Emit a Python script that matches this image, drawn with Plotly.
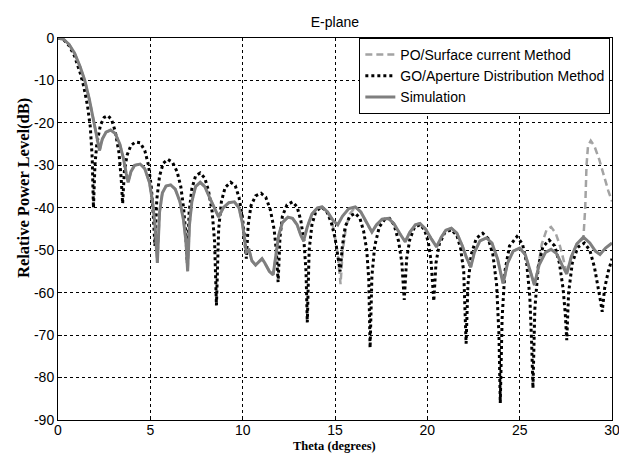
import plotly.graph_objects as go

# ---------------- data ----------------
go_theta = [0, 0.3, 0.6, 0.9, 1.2, 1.4, 1.6, 1.75, 1.85, 1.92,
            2.0, 2.1, 2.3, 2.5, 2.7, 2.9, 3.1, 3.3, 3.42, 3.5,
            3.6, 3.75, 3.95, 4.2, 4.45, 4.7, 4.9, 5.05, 5.15, 5.25,
            5.35, 5.5, 5.7, 5.95, 6.2, 6.45, 6.65, 6.8, 6.92, 7.0,
            7.1, 7.25, 7.45, 7.7, 7.95, 8.15, 8.35, 8.48, 8.58,
            8.7, 8.85, 9.05, 9.35, 9.6, 9.8, 9.98, 10.1, 10.2,
            10.3, 10.45, 10.7, 11.0, 11.25, 11.5, 11.7, 11.82, 11.92,
            12.02, 12.15, 12.4, 12.7, 12.95, 13.15, 13.32, 13.43, 13.5,
            13.6, 13.75, 13.95, 14.25, 14.55, 14.8, 15.0, 15.15, 15.28,
            15.4, 15.55, 15.8, 16.1, 16.35, 16.55, 16.72, 16.83, 16.9,
            17.0, 17.15, 17.4, 17.7, 17.95, 18.2, 18.45, 18.62, 18.75,
            18.88, 19.05, 19.3, 19.6, 19.85, 20.05, 20.2, 20.35,
            20.47, 20.65, 20.95, 21.3, 21.6, 21.8, 21.97, 22.1,
            22.2, 22.38, 22.65, 23.0, 23.3, 23.55, 23.75, 23.88, 23.95,
            24.05, 24.2, 24.45, 24.85, 25.15, 25.38, 25.55, 25.65, 25.72,
            25.82, 26.0, 26.25, 26.6, 26.9, 27.15, 27.35, 27.47, 27.55,
            27.65, 27.85, 28.15, 28.5, 28.8, 29.05, 29.25, 29.38, 29.47,
            29.6, 29.8, 30.0]
go_db = [0, -0.4, -1.8, -4.3, -8.2, -11.5, -16, -21, -28, -40,
         -30, -25, -20.5, -18.7, -18.3, -19.2, -22, -27, -33, -39,
         -31, -27.5, -25.3, -24.5, -24.7, -26.5, -30, -35, -41, -49,
         -38, -32.5, -29.5, -28.6, -29.3, -31.5, -35, -40, -46, -53,
         -41, -35.5, -32.5, -31.8, -33, -36, -41, -48, -63,
         -45, -38.5, -35.2, -34, -34.8, -37.5, -42, -47, -52,
         -44, -39.5, -37.2, -36.6, -37.5, -40.5, -45, -50, -57.5,
         -47, -42, -39.3, -38.6, -39.8, -43, -48, -55, -67,
         -50, -44, -41, -39.8, -40.8, -43.5, -47, -51, -55,
         -49, -44.5, -42, -41.3, -42.5, -45.5, -50, -57, -73,
         -56, -49, -44.5, -42.7, -42.5, -44, -48, -53, -61.7,
         -52, -47.5, -44.6, -44, -45.2, -48, -52.5, -62,
         -53, -48.5, -45.8, -45.2, -46.5, -49.5, -55, -72,
         -58, -51, -47.2, -46, -47.3, -51, -58, -70, -86,
         -66, -55, -49, -46.8, -48.5, -53, -61, -72, -82.5,
         -64, -54, -49.3, -47.6, -49, -53, -59, -65, -71.2,
         -60, -53, -49.3, -48.3, -50, -54, -58.5, -62, -64.5,
         -59, -55, -52]

sim_theta = [0, 0.3, 0.6, 0.9, 1.2, 1.45, 1.7, 1.9, 2.08, 2.25,
             2.4, 2.6, 2.85, 3.1, 3.35, 3.55, 3.7, 3.8,
             3.95, 4.15, 4.45, 4.7, 4.95, 5.12, 5.25, 5.38,
             5.5, 5.65, 5.85, 6.1, 6.35, 6.6, 6.8, 6.93, 7.02,
             7.12, 7.25, 7.45, 7.7, 7.95, 8.2, 8.45, 8.7,
             8.95, 9.25, 9.55, 9.8, 9.98, 10.12, 10.2,
             10.35, 10.5, 10.7, 10.9, 11.05, 11.2, 11.45, 11.65,
             11.8, 11.95, 12.15, 12.45, 12.7, 12.95, 13.15, 13.3,
             13.5, 13.75, 14.05, 14.3, 14.6, 14.9, 15.15,
             15.4, 15.75, 16.1, 16.4, 16.7, 17.0,
             17.25, 17.55, 17.9, 18.2, 18.5, 18.8,
             19.05, 19.35, 19.6, 19.9, 20.2, 20.5,
             20.75, 21.0, 21.3, 21.6, 21.9, 22.1, 22.35,
             22.55, 22.85, 23.2, 23.5, 23.8, 24.1,
             24.35, 24.65, 25.0, 25.3, 25.55, 25.8,
             26.05, 26.4, 26.7, 27.0, 27.3, 27.55,
             27.8, 28.1, 28.45, 28.8, 29.1, 29.35,
             29.65, 30.0]
sim_db = [0, -0.3, -1.5, -3.6, -6.8, -10, -14.5, -19, -23.5, -26.5,
          -23.8, -22.2, -21.7, -22.5, -25, -28.5, -32, -34,
          -31.5, -30, -29.7, -30.8, -34, -38.5, -44, -53,
          -41, -36.5, -34.9, -34.6, -35.6, -38.5, -43, -48, -55,
          -44, -38.5, -35, -34, -35, -37.5, -40, -42.2,
          -40, -38.8, -38.6, -40, -43.5, -48, -50.5,
          -50, -52.5, -53.5, -52.5, -52, -53, -55, -55.8,
          -51, -46.5, -43.5, -42.2, -42.5, -44, -46.5, -47.8,
          -44.5, -41.5, -40, -39.8, -41, -43, -44,
          -42, -40.2, -39.8, -41, -43.5, -45.7,
          -44, -42.7, -42.5, -43.8, -46, -48,
          -45.8, -44, -43.7, -45, -47.2, -49.2,
          -47, -45.3, -44.8, -46, -49, -51.5, -54,
          -50.5, -47.8, -47.1, -48.3, -52, -57.8,
          -53, -50.2, -49.5, -51, -54.5, -58.2,
          -53.5, -50.5, -49.8, -50.8, -53.5, -55.6,
          -51.5, -48.5, -46.9, -48.3, -50.2, -51,
          -49.5, -48.3]

po_theta = [0, 0.3, 0.6, 0.9, 1.2, 1.45, 1.7, 1.9, 2.08, 2.25,
            2.4, 2.6, 2.85, 3.1, 3.35, 3.55, 3.7, 3.8,
            3.95, 4.15, 4.45, 4.7, 4.95, 5.12, 5.25, 5.38,
            5.5, 5.65, 5.85, 6.1, 6.35, 6.6, 6.8, 6.93, 7.02,
            7.12, 7.25, 7.45, 7.7, 7.95, 8.2, 8.45, 8.7,
            8.95, 9.25, 9.55, 9.8, 9.98, 10.12, 10.2,
            10.35, 10.5, 10.7, 10.9, 11.05, 11.2, 11.45, 11.65,
            11.8, 11.95, 12.15, 12.45, 12.7, 12.95, 13.15, 13.3,
            13.5, 13.75, 14.05, 14.3, 14.6, 14.85,
            15.0, 15.15, 15.3, 15.42, 15.6, 15.8,
            16.1, 16.4, 16.7, 17.0,
            17.25, 17.55, 17.9, 18.2, 18.5, 18.8,
            19.05, 19.35, 19.6, 19.9, 20.2, 20.5,
            20.75, 21.0, 21.3, 21.6, 21.9, 22.1, 22.35,
            22.55, 22.85, 23.2, 23.5, 23.8, 24.1,
            24.35, 24.65, 25.0, 25.3, 25.55, 25.8,
            26.0, 26.2, 26.45, 26.7, 26.95, 27.15, 27.35, 27.55,
            27.8, 28.1, 28.45, 28.55, 28.62, 28.7, 28.85,
            29.05, 29.3, 29.55, 29.8, 30.0]
po_db = [0, -0.3, -1.5, -3.6, -6.8, -10, -14.5, -19, -23.5, -26.5,
         -23.8, -22.2, -21.7, -22.5, -25, -28.5, -32, -34,
         -31.5, -30, -29.7, -30.8, -34, -38.5, -44, -53,
         -41, -36.5, -34.9, -34.6, -35.6, -38.5, -43, -48, -55,
         -44, -38.5, -35, -34, -35, -37.5, -40, -42.2,
         -40, -38.8, -38.6, -40, -43.5, -48, -50.5,
         -50, -52.5, -53.5, -52.5, -52, -53, -55, -55.8,
         -51, -46.5, -43.5, -42.2, -42.5, -44, -46.5, -47.8,
         -44.5, -41.5, -40, -39.8, -41, -43.5,
         -47, -51, -58, -50, -44.5, -41.5,
         -39.8, -41, -43.5, -45.7,
         -44, -42.7, -42.5, -43.8, -46, -48,
         -45.8, -44, -43.7, -45, -47.2, -49.2,
         -47, -45.3, -44.8, -46, -49, -51.5, -54,
         -50.5, -47.8, -47.1, -48.3, -52, -57.8,
         -53, -50.2, -49.5, -51, -54.5, -58.2,
         -54, -48.5, -45.3, -44.5, -46, -48.5, -51.8, -55.5,
         -51.5, -48.5, -47.2, -40, -30, -25.5, -24.2,
         -25.5, -28.5, -32.5, -36, -38.5]

x_ticks = [0, 5, 10, 15, 20, 25, 30]
x_tick_text = ["0", "5", "10", "15", "20", "25", "30"]
y_ticks = [0, -10, -20, -30, -40, -50, -60, -70, -80, -90]
y_tick_text = ["0", "-10", "-20", "-30", "-40", "-50", "-60", "-70", "-80", "-90"]

# ---------------- figure ----------------
W, H = 619, 453
ML, MR, MT, MB = 58, 7, 38, 33
PW, PH = W - ML - MR, H - MT - MB

fig = go.Figure()
fig.add_trace(go.Scatter(x=po_theta, y=po_db, mode="lines",
                         name="PO/Surface current Method", legendgroup="a",
                         line=dict(color="#a3a3a3", width=2.5, dash="7px,4px")))
fig.add_trace(go.Scatter(x=go_theta, y=go_db, mode="lines",
                         name="GO/Aperture Distribution Method", legendgroup="b",
                         line=dict(color="#000000", width=3, dash="3px,3px")))
fig.add_trace(go.Scatter(x=sim_theta, y=sim_db, mode="lines",
                         name="Simulation", legendgroup="c",
                         line=dict(color="#7f7f7f", width=3)))

axis_common = dict(showline=True, linecolor="black", linewidth=1, mirror=True,
                   showgrid=True, gridcolor="black", gridwidth=1, griddash="3px,3px",
                   ticks="inside", ticklen=4, tickcolor="black", zeroline=False,
                   automargin=False, ticklabeloverflow="allow",
                   tickfont=dict(family="Liberation Sans, Arial", size=14, color="black"))

fig.update_xaxes(range=[0, 30], tickvals=x_ticks, ticktext=x_tick_text,
                 ticklabelstandoff=-3, **axis_common)
fig.update_yaxes(range=[-90, 0], tickvals=y_ticks, ticktext=y_tick_text, **axis_common)

serif = "Liberation Serif, Times New Roman"
fig.add_annotation(text="<b>Theta (degrees)</b>", xref="paper", yref="paper",
                   x=(334.5 - ML) / PW, y=(PH + MT - 446) / PH,
                   xanchor="center", yanchor="middle", showarrow=False,
                   font=dict(family=serif, size=12.5, color="black"))
fig.add_annotation(text="<b>Relative Power Level(dB)</b>", xref="paper", yref="paper",
                   x=(23 - ML) / PW, y=(PH + MT - 188) / PH, textangle=-90,
                   xanchor="center", yanchor="middle", showarrow=False,
                   font=dict(family=serif, size=16.5, color="black"))

fig.update_layout(
    width=W, height=H,
    margin=dict(l=ML, r=MR, t=MT, b=MB),
    paper_bgcolor="white", plot_bgcolor="white",
    title=dict(text="E-plane", x=0.541, xanchor="center", y=1 - 22 / H, yanchor="middle",
               yref="container",
               font=dict(family="Liberation Sans, Arial", size=14, color="black")),
    showlegend=True,
    legend=dict(x=0.997, xanchor="right", y=1.0, yanchor="top",
                bgcolor="white", bordercolor="black", borderwidth=1,
                traceorder="grouped", tracegroupgap=0, itemwidth=30,
                font=dict(family="Liberation Sans, Arial", size=14, color="black")),
)

fig.write_html("out.html")
